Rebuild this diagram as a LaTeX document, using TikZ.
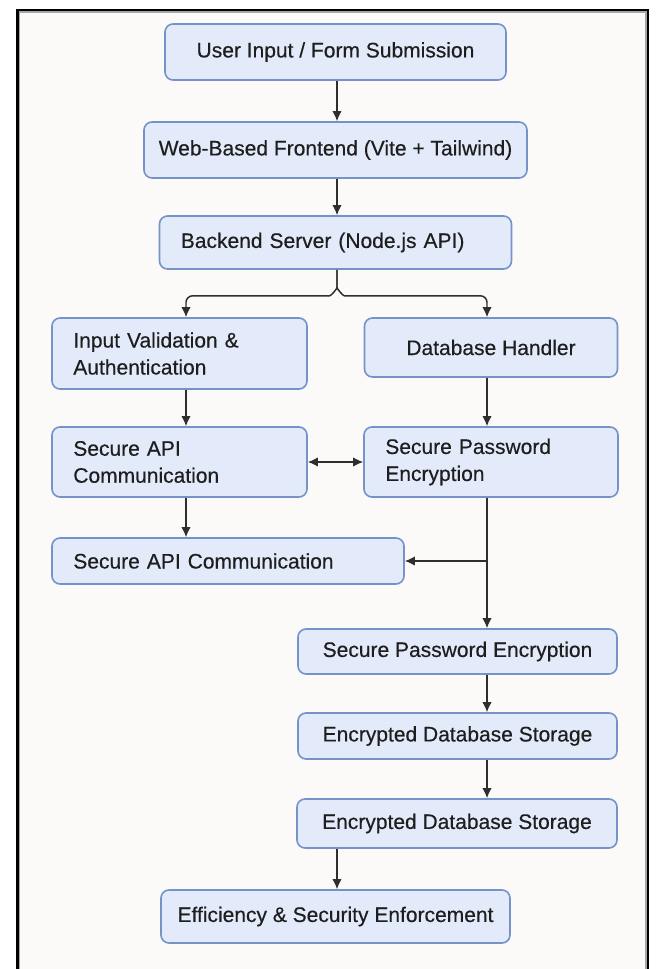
\documentclass[tikz,border=0pt]{standalone}
\usepackage{fontspec}
\setmainfont{Liberation Sans}
\newfontface\boxfont{Liberation Sans}[FakeBold=0.4]
\usetikzlibrary{arrows.meta,calc}
\definecolor{boxfill}{HTML}{E3EBFA}
\definecolor{boxline}{HTML}{7593C9}
\definecolor{paper}{HTML}{FBFAF8}
\definecolor{ink}{HTML}{1E1E1E}
\definecolor{wire}{HTML}{2E2E2E}
\begin{document}
\begin{tikzpicture}[x=0.75pt,y=-0.75pt,
  flowbox/.style={draw=boxline, fill=boxfill, line width=1.2pt,
    rounded corners=6pt, text=ink, inner ysep=0pt,
    font=\boxfont\fontsize{15.75pt}{20.25pt}\selectfont},
  leftbox/.style={flowbox, align=left, inner xsep=16pt},
  midbox/.style={flowbox, align=center, inner xsep=0pt},
  tip/.style={Latex[length=7.5pt,width=7pt]},
  flow/.style={draw=wire, line width=1.1pt, -{Latex[length=7.5pt,width=7pt]}},
  bothflow/.style={draw=wire, line width=1.1pt, {Latex[length=7.5pt,width=7pt]}-{Latex[length=7.5pt,width=7pt]}}]

% page and frame
\useasboundingbox (0,0) rectangle (656,969);
\fill[white] (0,0) rectangle (656,969);
\fill[paper] (17.5,10) rectangle (648,969);
\draw[black!35, line width=0.8pt] (19.5,980) -- (19.5,12) -- (646,12) -- (646,980);
\draw[black, line width=1.8pt] (17.5,980) -- (17.5,10) -- (648,10) -- (648,980);

% column positions of the vertical connectors
\coordinate (lcol) at (186,0);
\coordinate (mcol) at (337,0);
\coordinate (rcol) at (487,0);

% boxes
\node[midbox, minimum width=255.75pt, minimum height=42pt] (b1) at (335.5,52) {User Input / Form Submission};
\node[midbox, minimum width=287.25pt, minimum height=42pt] (b2) at (335.5,150) {Web-Based Frontend (Vite + Tailwind)};
\node[leftbox, text width=232pt, minimum height=39.75pt] (b3) at (335.5,242.5) {Backend Server (Node.js API)};
\node[leftbox, text width=159.25pt, minimum height=53.25pt] (b4) at (179.5,353.5) {Input Validation \&\\Authentication};
\node[midbox, minimum width=189.75pt, minimum height=44.25pt] (b5) at (491,347.5) {Database Handler};
\node[leftbox, text width=159.25pt, minimum height=52.5pt] (b6) at (179.5,462) {Secure API\\Communication};
\node[leftbox, text width=158.5pt, minimum height=52.5pt] (b7) at (491,462) {Secure Password\\Encryption};
\node[leftbox, text width=232pt, minimum height=34.5pt] (b8) at (228,561) {Secure API Communication};
\node[midbox, minimum width=239.25pt, minimum height=33.75pt] (b9) at (457.5,651.5) {Secure Password Encryption};
\node[midbox, minimum width=239.25pt, minimum height=34.5pt] (b10) at (457.5,736) {Encrypted Database Storage};
\node[midbox, minimum width=240pt, minimum height=36.75pt] (b11) at (457,823.5) {Encrypted Database Storage};
\node[midbox, minimum width=261.75pt, minimum height=39.75pt] (b12) at (335.5,916.5) {Efficiency \& Security Enforcement};

% connectors
\draw[flow] (b1.south -| mcol) -- (b2.north -| mcol);
\draw[flow] (b2.south -| mcol) -- (b3.north -| mcol);
\draw[flow, rounded corners=5pt] (b3.south -| mcol) -- ++(0,11) to[out=-90,in=0] ++(-14,15) -| (b4.north -| lcol);
\draw[flow, rounded corners=5pt] (b3.south -| mcol) -- ++(0,11) to[out=-90,in=180] ++(14,15) -| (b5.north -| rcol);
\draw[flow] (b4.south -| lcol) -- (b6.north -| lcol);
\draw[flow] (b5.south -| rcol) -- (b7.north -| rcol);
\draw[bothflow] (b6.east) -- (b7.west);
\draw[flow] (b6.south -| lcol) -- (b8.north -| lcol);
\draw[flow] (b7.south -| rcol) -- (b9.north -| rcol);
\draw[flow] (b8.east -| rcol) -- (b8.east);
\draw[flow] (b9.south -| rcol) -- (b10.north -| rcol);
\draw[flow] (b10.south -| rcol) -- (b11.north -| rcol);
\draw[flow] (b11.south -| mcol) -- (b12.north -| mcol);
\end{tikzpicture}
\end{document}
